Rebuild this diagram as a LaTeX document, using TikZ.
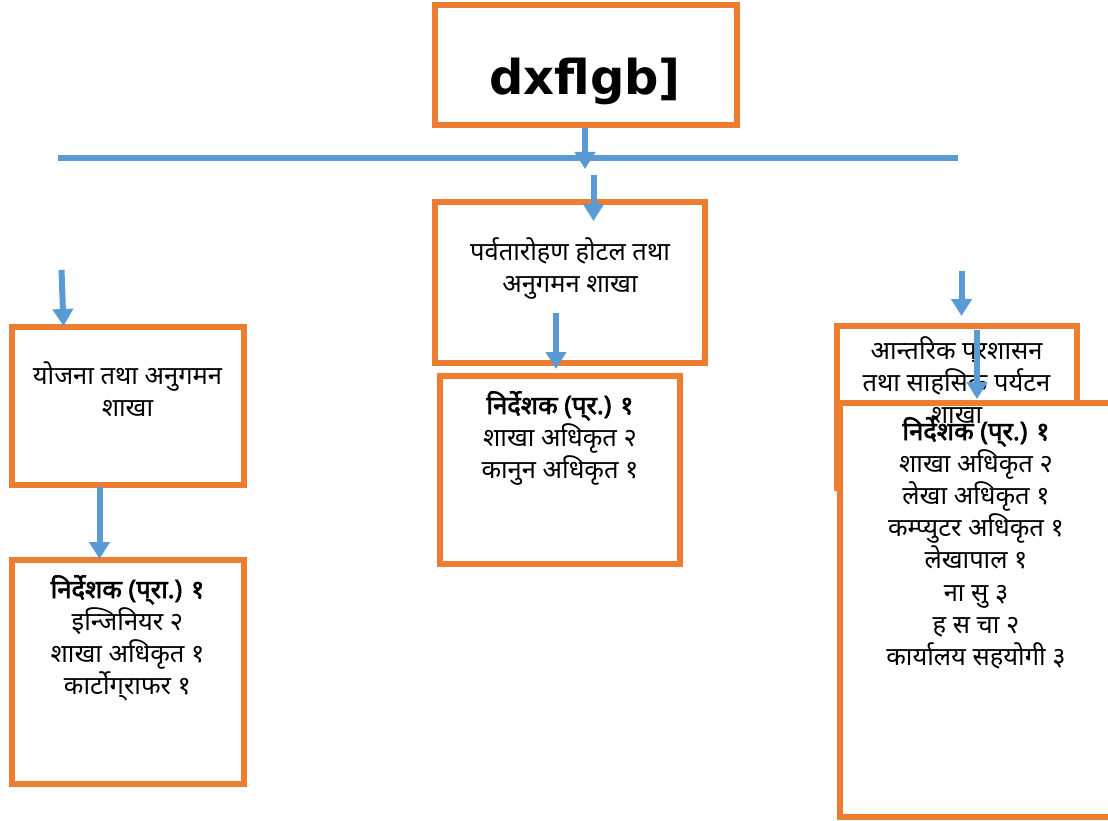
\documentclass[tikz,border=0pt]{standalone}
\usepackage{fontspec}
\setmainfont[Script=Devanagari]{Noto Sans}
\newfontfamily\devbold[Script=Devanagari, FakeBold=2.5]{Noto Sans}
\newfontfamily\titlefont{DejaVu Sans}
\usetikzlibrary{arrows.meta}
\definecolor{obox}{HTML}{ED7D31}
\definecolor{bline}{HTML}{5B9BD5}
\tikzset{
  orgbox/.style={draw=obox, line width=6pt, fill=white, inner sep=0pt},
  lbl/.style={align=center, inner sep=0pt, font=\fontsize{25.5}{32.2}\selectfont},
  arr/.style={draw=bline, line width=6pt, -{Triangle[width=20pt,length=17pt]}},
}
\begin{document}
\begin{tikzpicture}[x=1pt,y=-1pt]
\useasboundingbox (0,0) rectangle (1108,821);
% top box
\node[orgbox, minimum width=301.5pt, minimum height=119.5pt] (top) at (585.75,65.25) {};
\node[inner sep=0pt, font=\titlefont\bfseries\fontsize{48}{52}\selectfont] (toplbl) at (585,81) {dxflgb]};
% horizontal line
\coordinate (hl) at (58,158.5);
\coordinate (hr) at (958,158.5);
\draw[draw=bline, line width=6pt] (hl) -- (hr);
% boxes
\node[orgbox, minimum width=270pt, minimum height=160pt] (m1) at (570,282.5) {};
\node[orgbox, minimum width=240pt, minimum height=187.5pt] (m2) at (560,469.75) {};
\node[orgbox, minimum width=232pt, minimum height=158.5pt] (l1) at (127.5,405.75) {};
\node[orgbox, minimum width=232pt, minimum height=223.5pt] (l2) at (127.5,671.75) {};
\node[orgbox, minimum width=240pt, minimum height=162.5pt] (r1) at (956.5,406.75) {};
\node[orgbox, minimum width=275pt, minimum height=414pt] (r2) at (977,609.5) {};
% labels
\node[lbl, anchor=north] (m1t) at (570,237) {पर्वतारोहण होटल तथा\\अनुगमन शाखा};
\node[lbl, anchor=north] (m2t) at (560,391) {{\devbold निर्देशक (प्^^^^200cर.) १}\\शाखा अधिकृत २\\कानुन अधिकृत १};
\node[lbl, anchor=north] (l1t) at (127.5,361) {योजना तथा अनुगमन\\शाखा};
\node[lbl, anchor=north] (l2t) at (127.5,575) {{\devbold निर्देशक (प्^^^^200cरा.) १}\\इन्जिनियर २\\शाखा अधिकृत १\\कार्टोग्^^^^200cराफर १};
\node[lbl, anchor=north] (r1t) at (956.5,336) {आन्तरिक प्^^^^200cरशासन\\तथा साहसिक पर्यटन\\शाखा};
\node[lbl, anchor=north] (r2t) at (976,417) {{\devbold निर्देशक (प्^^^^200cर.) १}\\शाखा अधिकृत २\\लेखा अधिकृत १\\कम्प्युटर अधिकृत १\\लेखापाल १\\ना सु ३\\ह स चा २\\कार्यालय सहयोगी ३};
% arrow coordinates
\coordinate (a1s) at (585,128);   \coordinate (a1e) at (585,169);
\coordinate (a2s) at (593.5,175); \coordinate (a2e) at (593.5,221);
\coordinate (a3s) at (556,313);   \coordinate (a3e) at (556,369);
\coordinate (a4s) at (61.5,270);  \coordinate (a4e) at (63.5,326);
\coordinate (a5s) at (99.5,487);  \coordinate (a5e) at (99.5,559);
\coordinate (a6s) at (961.5,271); \coordinate (a6e) at (961.5,316);
\coordinate (a7s) at (977,330);   \coordinate (a7e) at (977,399);
\draw[arr] (a1s) -- (a1e);
\draw[arr] (a2s) -- (a2e);
\draw[arr] (a3s) -- (a3e);
\draw[arr] (a4s) -- (a4e);
\draw[arr] (a5s) -- (a5e);
\draw[arr] (a6s) -- (a6e);
\draw[arr] (a7s) -- (a7e);
\end{tikzpicture}
\end{document}
